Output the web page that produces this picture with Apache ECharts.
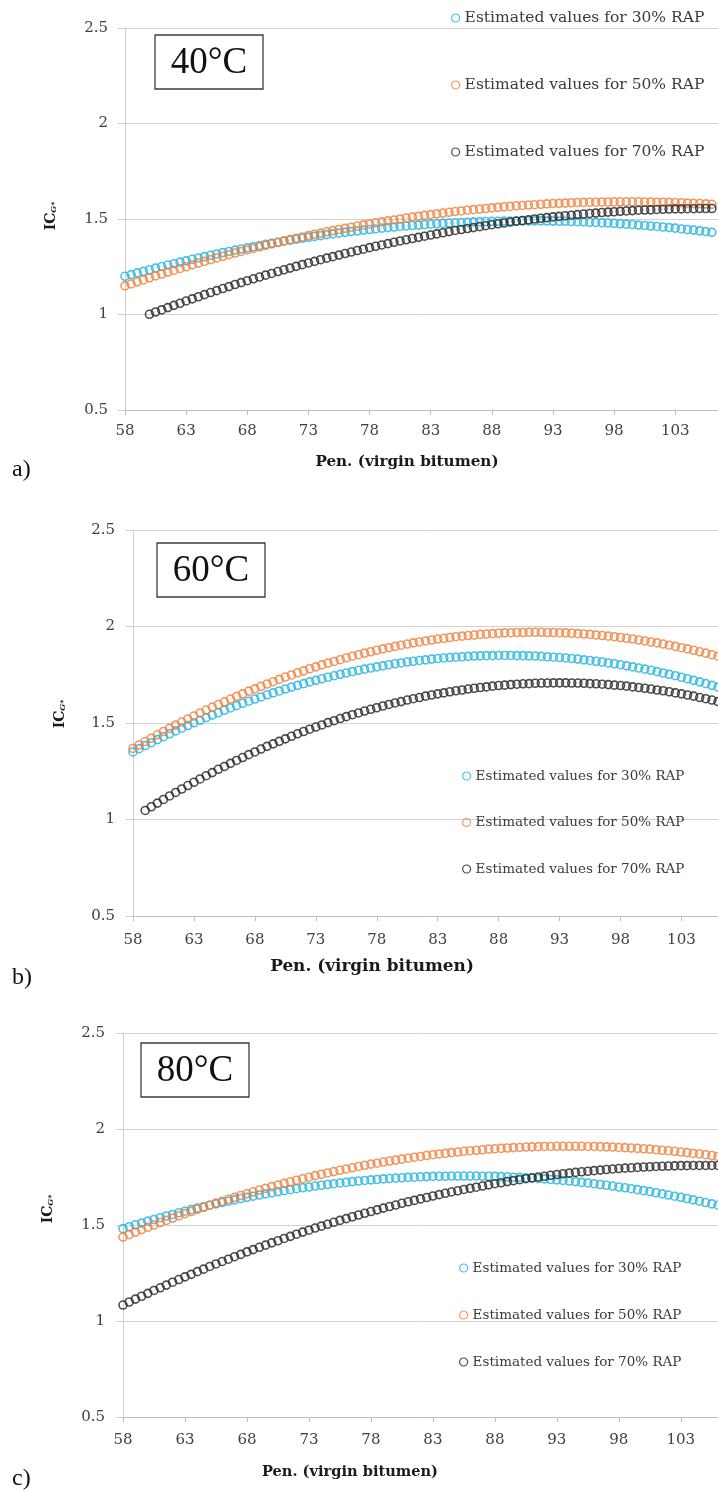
<!DOCTYPE html>
<html>
<head>
<meta charset="utf-8">
<title>IC G* vs Pen.</title>
<script src="https://cdn.jsdelivr.net/npm/echarts@6.0.0/dist/echarts.min.js"></script>
</head>
<body style="margin:0;background:#fff">
<div id="main" style="width:718px;height:1490px"></div>
<script>
// penetration of the virgin bitumen (x)
var pen = [58,58.5,59,59.5,60,60.5,61,61.5,62,62.5,63,63.5,64,64.5,65,65.5,66,66.5,67,67.5,
  68,68.5,69,69.5,70,70.5,71,71.5,72,72.5,73,73.5,74,74.5,75,75.5,76,76.5,77,77.5,
  78,78.5,79,79.5,80,80.5,81,81.5,82,82.5,83,83.5,84,84.5,85,85.5,86,86.5,87,87.5,
  88,88.5,89,89.5,90,90.5,91,91.5,92,92.5,93,93.5,94,94.5,95,95.5,96,96.5,97,97.5,
  98,98.5,99,99.5,100,100.5,101,101.5,102,102.5,103,103.5,104,104.5,105,105.5,106];

// a) 40°C
var ic40_30 = [1.200,1.209,1.218,1.226,1.234,1.243,1.251,1.259,1.266,1.274,
  1.281,1.289,1.296,1.303,1.310,1.317,1.324,1.330,1.337,1.343,
  1.349,1.355,1.361,1.367,1.373,1.378,1.384,1.389,1.394,1.399,
  1.404,1.409,1.413,1.418,1.422,1.426,1.430,1.434,1.438,1.442,
  1.445,1.448,1.452,1.455,1.458,1.461,1.463,1.466,1.468,1.471,
  1.473,1.475,1.477,1.479,1.480,1.482,1.483,1.485,1.486,1.487,
  1.488,1.488,1.489,1.489,1.490,1.490,1.490,
  1.490,1.490,1.489,1.489,1.488,1.488,1.487,1.486,1.485,1.483,
  1.482,1.480,1.479,1.477,1.475,1.473,1.471,1.468,1.466,1.463,
  1.461,1.458,1.455,1.452,1.448,1.445,1.442,1.438,1.434,1.430];
var ic40_50 = [1.150,1.160,1.171,1.181,1.192,1.202,1.212,1.222,1.231,1.241,
  1.250,1.260,1.269,1.278,1.287,1.296,1.305,1.313,1.322,1.330,
  1.338,1.346,1.354,1.362,1.370,1.377,1.385,1.392,1.399,1.406,
  1.413,1.420,1.426,1.433,1.439,1.445,1.451,1.457,1.463,1.469,
  1.474,1.480,1.485,1.490,1.495,1.500,1.505,1.510,1.514,1.519,
  1.523,1.527,1.531,1.535,1.539,1.542,1.546,1.549,1.552,1.555,
  1.558,1.561,1.564,1.566,1.569,1.571,1.573,1.575,1.577,1.579,
  1.581,1.582,1.583,1.585,1.586,1.587,1.588,1.588,1.589,1.589,
  1.590,1.590,1.590,
  1.590,1.590,1.589,1.589,1.588,1.588,1.587,1.586,1.585,1.583,1.582,1.581,1.579,1.577];
var ic40_70 = [null,null,null,null,
  1.001,1.013,1.024,1.036,1.048,1.059,1.071,1.082,1.093,1.104,
  1.115,1.125,1.136,1.146,1.157,1.167,1.177,1.187,1.196,1.206,
  1.215,1.225,1.234,1.243,1.252,1.261,1.270,1.278,1.287,1.295,
  1.303,1.311,1.319,1.327,1.335,1.342,1.350,1.357,1.364,1.371,
  1.378,1.385,1.391,1.398,1.404,1.410,1.416,1.422,1.428,1.434,
  1.440,1.445,1.450,1.455,1.460,1.465,1.470,1.475,1.479,1.484,
  1.488,1.492,1.496,1.500,1.504,1.507,1.511,1.514,1.517,1.520,
  1.523,1.526,1.529,1.531,1.534,1.536,1.538,1.540,1.542,1.544,
  1.546,1.547,1.548,1.550,1.551,1.552,1.553,1.553,1.554,1.554,
  1.555,1.555,1.555];

// b) 60°C
var ic60_30 = [1.350,1.367,1.383,1.398,1.414,1.429,1.444,1.459,1.473,1.487,
  1.501,1.514,1.528,1.541,1.553,1.566,1.578,1.590,1.602,1.613,
  1.624,1.635,1.646,1.656,1.666,1.676,1.686,1.695,1.704,1.713,
  1.721,1.729,1.737,1.745,1.752,1.759,1.766,1.773,1.779,1.785,
  1.791,1.796,1.802,1.807,1.811,1.816,1.820,1.824,1.827,1.831,
  1.834,1.837,1.839,1.841,1.843,1.845,1.847,1.848,1.849,1.849,
  1.850,1.850,
  1.850,1.849,1.849,1.848,1.847,1.845,1.843,1.841,1.839,1.837,
  1.834,1.831,1.827,1.824,1.820,1.816,1.811,1.807,1.802,1.796,
  1.791,1.785,1.779,1.773,1.766,1.759,1.752,1.745,1.737,1.729,
  1.721,1.713,1.704,1.695,1.686];
var ic60_50 = [1.368,1.386,1.404,1.421,1.439,1.456,1.472,1.489,1.505,1.521,
  1.536,1.552,1.567,1.582,1.596,1.610,1.624,1.638,1.651,1.665,
  1.677,1.690,1.702,1.714,1.726,1.738,1.749,1.760,1.770,1.781,
  1.791,1.801,1.810,1.819,1.828,1.837,1.846,1.854,1.862,1.869,
  1.877,1.884,1.890,1.897,1.903,1.909,1.915,1.920,1.925,1.930,
  1.935,1.939,1.943,1.947,1.950,1.953,1.956,1.959,1.961,1.963,
  1.965,1.967,1.968,1.969,1.969,1.970,1.970,
  1.970,1.969,1.969,1.968,1.967,1.965,1.963,1.961,1.959,1.956,
  1.953,1.950,1.947,1.943,1.939,1.935,1.930,1.925,1.920,1.915,
  1.909,1.903,1.897,1.890,1.884,1.877,1.869,1.862,1.854,1.846];
var ic60_70 = [null,null,
  1.047,1.066,1.085,1.104,1.122,1.140,1.158,1.176,1.193,1.210,
  1.227,1.243,1.260,1.275,1.291,1.306,1.321,1.336,1.350,1.365,
  1.379,1.392,1.405,1.418,1.431,1.444,1.456,1.468,1.479,1.490,
  1.502,1.512,1.523,1.533,1.543,1.552,1.562,1.571,1.579,1.588,
  1.596,1.604,1.611,1.619,1.626,1.632,1.639,1.645,1.651,1.656,
  1.662,1.667,1.671,1.676,1.680,1.684,1.687,1.691,1.694,1.696,
  1.699,1.701,1.703,1.704,1.706,1.707,1.707,1.708,1.708,
  1.708,1.707,1.707,1.706,1.704,1.703,1.701,1.699,1.696,1.694,
  1.691,1.687,1.684,1.680,1.676,1.671,1.667,1.662,1.656,1.651,
  1.645,1.639,1.632,1.626,1.619,1.611];

// c) 80°C
var ic80_30 = [1.481,1.491,1.501,1.510,1.520,1.529,1.538,1.547,1.555,1.564,
  1.572,1.580,1.588,1.595,1.603,1.610,1.617,1.624,1.631,1.638,
  1.644,1.650,1.656,1.662,1.668,1.674,1.679,1.684,1.689,1.694,
  1.698,1.703,1.707,1.711,1.715,1.719,1.722,1.726,1.729,1.732,
  1.735,1.737,1.740,1.742,1.744,1.746,1.748,1.749,1.751,1.752,
  1.753,1.754,1.754,1.755,1.755,1.755,
  1.755,1.755,1.754,1.754,1.753,1.752,1.751,1.749,1.748,1.746,
  1.744,1.742,1.740,1.737,1.735,1.732,1.729,1.726,1.722,1.719,
  1.715,1.711,1.707,1.703,1.698,1.694,1.689,1.684,1.679,1.674,
  1.668,1.662,1.656,1.650,1.644,1.638,1.631,1.624,1.617,1.610,
  1.603];
var ic80_50 = [1.437,1.450,1.463,1.476,1.488,1.500,1.513,1.524,1.536,1.548,
  1.559,1.570,1.582,1.592,1.603,1.614,1.624,1.634,1.644,1.654,
  1.663,1.673,1.682,1.691,1.700,1.708,1.717,1.725,1.733,1.741,
  1.749,1.757,1.764,1.771,1.778,1.785,1.792,1.798,1.805,1.811,
  1.817,1.822,1.828,1.833,1.838,1.843,1.848,1.853,1.857,1.862,
  1.866,1.870,1.873,1.877,1.880,1.884,1.887,1.889,1.892,1.895,
  1.897,1.899,1.901,1.903,1.904,1.906,1.907,1.908,1.909,1.909,
  1.910,1.910,1.910,
  1.910,1.910,1.909,1.909,1.908,1.907,1.906,1.904,1.903,1.901,
  1.899,1.897,1.895,1.892,1.889,1.887,1.884,1.880,1.877,1.873,
  1.870,1.866,1.862,1.857];
var ic80_70 = [1.083,1.099,1.114,1.129,1.144,1.159,1.173,1.187,1.202,1.216,
  1.230,1.243,1.257,1.270,1.284,1.297,1.310,1.322,1.335,1.347,
  1.360,1.372,1.384,1.395,1.407,1.418,1.430,1.441,1.452,1.463,
  1.473,1.484,1.494,1.504,1.514,1.524,1.533,1.543,1.552,1.561,
  1.570,1.579,1.588,1.596,1.604,1.613,1.621,1.628,1.636,1.643,
  1.651,1.658,1.665,1.672,1.678,1.685,1.691,1.697,1.703,1.709,
  1.715,1.720,1.726,1.731,1.736,1.741,1.746,1.750,1.754,1.759,
  1.763,1.767,1.770,1.774,1.777,1.780,1.783,1.786,1.789,1.792,
  1.794,1.796,1.798,1.800,1.802,1.803,1.805,1.806,1.807,1.808,
  1.809,1.809,1.810,1.810,1.810,
  1.810,1.810];

var seriesNames = ['Estimated values for 30% RAP', 'Estimated values for 50% RAP', 'Estimated values for 70% RAP'];
var temps = ['40°C', '60°C', '80°C'];
var tags = ['a)', 'b)', 'c)'];
var panelData = [[ic40_30, ic40_50, ic40_70], [ic60_30, ic60_50, ic60_70], [ic80_30, ic80_50, ic80_70]];
var colors = ['#1fb1e0', '#f07d3a', '#222222'];

// where each panel sits on the page
var layout = [
  {left: 125, top: 28, width: 593, height: 382, xMax: 106.5, xMargin: 14, yMargin: 17,
   lg: {left: 451, top: 10, gap: 51, size: 15.5}, box: [155, 35], tag: 470, xt: [407, 462, 15.2], yt: [51, 216]},
  {left: 133, top: 530, width: 585, height: 386, xMax: 106, xMargin: 17, yMargin: 18,
   lg: {left: 462, top: 768, gap: 30.5, size: 13.5}, box: [157, 543], tag: 978, xt: [372, 967, 16.9], yt: [60, 714]},
  {left: 123, top: 1033, width: 595, height: 384, xMax: 106, xMargin: 16, yMargin: 18,
   lg: {left: 459, top: 1260, gap: 31, size: 13.5}, box: [141, 1043], tag: 1479, xt: [350, 1472, 14.6], yt: [48, 1209]}
];

function toPoints(vals) {
  var out = [];
  for (var i = 0; i < pen.length; i++) {
    if (vals[i] != null) out.push([pen[i], vals[i]]);
  }
  return out;
}

var grids = [], xAxes = [], yAxes = [], series = [], legends = [], graphics = [];
var serif = 'DejaVu Serif';

layout.forEach(function (L, p) {
  grids.push({left: L.left, top: L.top, width: L.width, height: L.height,
    containLabel: false, outerBoundsMode: 'none'});
  xAxes.push({
    gridIndex: p, type: 'value', min: 58, max: L.xMax, interval: 5,
    axisLine: {show: true, lineStyle: {color: '#bfbfbf', width: 1}},
    axisTick: {show: true, length: 5, lineStyle: {color: '#bfbfbf'}},
    axisLabel: {margin: L.xMargin, fontFamily: serif, fontSize: 15, color: '#404040', showMaxLabel: false},
    splitLine: {show: false}
  });
  yAxes.push({
    gridIndex: p, type: 'value', min: 0.5, max: 2.5, interval: 0.5,
    axisLine: {show: true, lineStyle: {color: '#cfcfcf', width: 1}},
    axisTick: {show: true, length: 7, lineStyle: {color: '#cfcfcf'}},
    axisLabel: {margin: L.yMargin, fontFamily: serif, fontSize: 15, color: '#404040'},
    splitLine: {show: true, lineStyle: {color: '#d2d2d2', width: 1}}
  });
  panelData[p].forEach(function (vals, s) {
    series.push({
      type: 'scatter', name: seriesNames[s], xAxisIndex: p, yAxisIndex: p,
      data: toPoints(vals), symbol: 'circle', symbolSize: 8,
      itemStyle: {color: 'rgba(0,0,0,0)', borderColor: colors[s], borderWidth: 1.6},
      emphasis: {disabled: true}
    });
  });
  legends.push({
    orient: 'vertical', left: L.lg.left, top: L.lg.top, itemGap: L.lg.gap, padding: 0,
    itemWidth: 8, itemHeight: 16, selectedMode: false, data: seriesNames,
    itemStyle: {borderWidth: 1.2},
    textStyle: {fontFamily: serif, fontSize: L.lg.size, color: '#3a3a3a', lineHeight: 16}
  });
  graphics.push(
    {type: 'rect', shape: {x: L.box[0], y: L.box[1], width: 108, height: 54},
     style: {fill: '#fff', stroke: '#3c3c3c', lineWidth: 1.3}, z: 10},
    {type: 'text', x: L.box[0] + 54, y: L.box[1] + 28, z: 11,
     style: {text: temps[p], fontFamily: 'Liberation Serif', fontSize: 37, fill: '#111',
       align: 'center', verticalAlign: 'middle'}},
    {type: 'text', x: 12, y: L.tag, z: 11,
     style: {text: tags[p], fontFamily: 'Liberation Serif', fontSize: 24, fill: '#111',
       align: 'left', verticalAlign: 'middle'}},
    {type: 'text', x: L.xt[0], y: L.xt[1], z: 11,
     style: {text: 'Pen. (virgin bitumen)', fontFamily: serif, fontWeight: 'bold', fontSize: L.xt[2],
       fill: '#1a1a1a', align: 'center', verticalAlign: 'middle'}},
    {type: 'text', x: L.yt[0], y: L.yt[1], rotation: Math.PI / 2, z: 11,
     style: {text: '{b|IC}{s|G*}', align: 'center', verticalAlign: 'middle',
       rich: {
         b: {fontFamily: serif, fontWeight: 'bold', fontSize: 14, fill: '#1a1a1a'},
         s: {fontFamily: serif, fontWeight: 'bold', fontStyle: 'italic', fontSize: 8, fill: '#1a1a1a', verticalAlign: 'bottom'}
       }}}
  );
});

var myChart = echarts.init(document.getElementById('main'));
myChart.setOption({
  animation: false,
  backgroundColor: '#fff',
  grid: grids,
  xAxis: xAxes,
  yAxis: yAxes,
  legend: legends,
  series: series,
  graphic: graphics
});
</script>
</body>
</html>
